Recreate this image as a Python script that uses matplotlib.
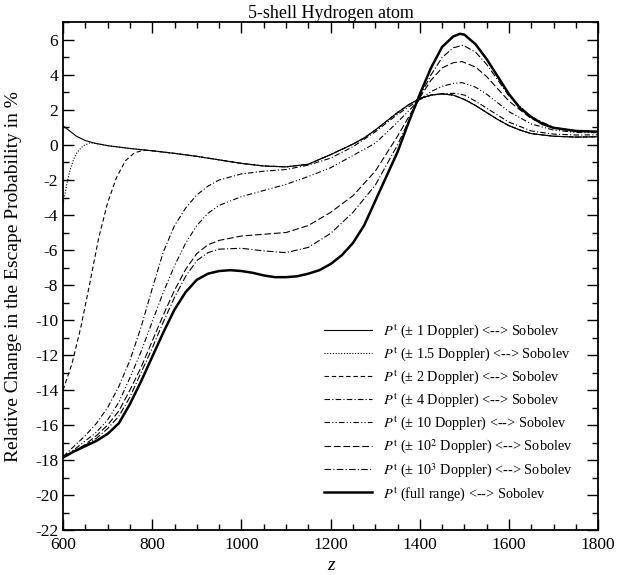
import matplotlib
matplotlib.use("Agg")
import matplotlib.pyplot as plt
from matplotlib.ticker import MultipleLocator

plt.rcParams['font.family'] = ['Liberation Serif', 'DejaVu Serif']
plt.rcParams['mathtext.fontset'] = 'stix'
plt.rcParams['axes.unicode_minus'] = False

# top curve (+-1 Doppler); the narrow windows join it after their start
z_top = [600, 615, 630, 650, 675, 700, 750, 800, 850, 900, 950, 1000, 1050, 1100,
         1150, 1200, 1225, 1250, 1275, 1300, 1325, 1350, 1375, 1400, 1425, 1450,
         1475, 1500, 1525, 1550, 1575, 1600, 1625, 1650, 1700, 1750, 1800]
p_1 = [1.1, 0.8, 0.5, 0.25, 0.08, -0.04, -0.2, -0.33, -0.48, -0.65, -0.85, -1.05, -1.2, -1.25,
       -1.1, -0.55, -0.25, 0.05, 0.4, 0.85, 1.35, 1.85, 2.3, 2.65, 2.85, 2.92,
       2.85, 2.6, 2.25, 1.85, 1.45, 1.1, 0.85, 0.65, 0.5, 0.45, 0.47]

z_15_head = [600, 608, 616, 624, 632, 645, 660, 675]
p_15_head = [-3.4, -2.3, -1.4, -0.8, -0.4, -0.05, 0.12, 0.08]

z_2_head = [600, 620, 640, 660, 680, 700, 720, 740, 760, 780]
p_2_head = [-14.0, -12.5, -10.4, -7.9, -5.3, -3.3, -1.85, -0.9, -0.45, -0.3]

z_4 = [600, 625, 650, 675, 700, 725, 750, 775, 800, 825, 850, 875, 900, 925, 950, 1000,
       1050, 1100, 1150, 1200, 1250, 1300, 1350, 1400, 1425, 1450, 1480, 1500, 1525,
       1550, 1600, 1650, 1700, 1750, 1800]
p_4 = [-17.8, -17.2, -16.6, -15.9, -15.0, -13.8, -12.3, -10.4, -8.2, -6.1, -4.6, -3.6, -2.85,
       -2.35, -2.0, -1.65, -1.5, -1.4, -1.15, -0.75, -0.1, 0.75, 1.75, 2.6, 2.85, 2.93,
       2.95, 2.85, 2.5, 2.1, 1.3, 0.8, 0.62, 0.57, 0.58]

z_10 = [600, 625, 650, 675, 700, 725, 750, 775, 800, 825, 850, 875, 900, 925, 950, 1000,
        1050, 1100, 1150, 1200, 1250, 1300, 1350, 1400, 1425, 1450, 1475, 1495, 1525,
        1550, 1575, 1600, 1650, 1700, 1750, 1800]
p_10 = [-17.8, -17.4, -16.9, -16.4, -15.7, -14.7, -13.3, -11.8, -10.1, -8.4, -6.9, -5.6, -4.6,
        -3.9, -3.45, -2.95, -2.6, -2.25, -1.8, -1.3, -0.6, 0.1, 1.3, 2.6, 3.05, 3.35,
        3.52, 3.56, 3.3, 2.9, 2.4, 1.9, 1.2, 0.85, 0.72, 0.7]

z_100 = [600, 625, 650, 675, 700, 725, 750, 775, 800, 825, 850, 875, 900, 925, 950, 1000,
         1050, 1100, 1150, 1200, 1250, 1300, 1350, 1400, 1425, 1450, 1475, 1495, 1525,
         1550, 1575, 1600, 1650, 1700, 1750, 1800]
p_100 = [-17.8, -17.5, -17.1, -16.6, -16.0, -15.2, -14.0, -12.7, -11.2, -9.7, -8.3, -7.1, -6.2,
         -5.7, -5.45, -5.2, -5.1, -5.0, -4.6, -3.85, -2.9, -1.5, 0.5, 2.7, 3.7, 4.4,
         4.7, 4.76, 4.45, 3.9, 3.2, 2.5, 1.5, 0.98, 0.8, 0.75]

z_1000 = [600, 625, 650, 675, 700, 725, 750, 775, 800, 825, 850, 875, 900, 925, 950, 1000,
          1050, 1100, 1150, 1200, 1250, 1300, 1350, 1400, 1425, 1450, 1475, 1497, 1525,
          1550, 1575, 1600, 1650, 1700, 1750, 1800]
p_1000 = [-17.85, -17.5, -17.15, -16.75, -16.2, -15.5, -14.4, -13.0, -11.6, -10.1, -8.7, -7.5,
          -6.6, -6.15, -5.95, -5.9, -6.05, -6.15, -5.85, -5.05, -3.85, -2.3, 0.0, 2.75, 4.0,
          5.0, 5.55, 5.7, 5.3, 4.6, 3.7, 2.8, 1.6, 1.0, 0.8, 0.76]

z_full = [600, 625, 650, 675, 700, 725, 750, 775, 800, 825, 850, 875, 900, 925, 950, 975,
          1000, 1025, 1050, 1075, 1100, 1125, 1150, 1175, 1200, 1225, 1250, 1275, 1300,
          1325, 1350, 1375, 1400, 1425, 1450, 1475, 1490, 1500, 1525, 1550, 1575, 1600,
          1625, 1650, 1675, 1700, 1750, 1800]
p_full = [-17.85, -17.5, -17.2, -16.9, -16.5, -15.9, -14.8, -13.5, -12.1, -10.7, -9.4, -8.4,
          -7.7, -7.35, -7.2, -7.15, -7.2, -7.3, -7.45, -7.55, -7.55, -7.5, -7.35, -7.15,
          -6.8, -6.3, -5.6, -4.6, -3.2, -1.8, -0.4, 1.3, 2.9, 4.4, 5.6, 6.2, 6.35, 6.3,
          5.75, 4.9, 3.9, 2.9, 2.1, 1.6, 1.2, 0.98, 0.8, 0.76]

labels = [r'$P^{\mathrm{t}}$ (± 1 Doppler) <--> Sobolev',
          r'$P^{\mathrm{t}}$ (± 1.5 Doppler) <--> Sobolev',
          r'$P^{\mathrm{t}}$ (± 2 Doppler) <--> Sobolev',
          r'$P^{\mathrm{t}}$ (± 4 Doppler) <--> Sobolev',
          r'$P^{\mathrm{t}}$ (± 10 Doppler) <--> Sobolev',
          r'$P^{\mathrm{t}}$ (± 10$^2$ Doppler) <--> Sobolev',
          r'$P^{\mathrm{t}}$ (± 10$^3$ Doppler) <--> Sobolev',
          r'$P^{\mathrm{t}}$ (full range) <--> Sobolev']

# narrow windows: own start, then the shared top curve
z_15 = z_15_head + [z for z in z_top if z > 675]
p_15 = p_15_head + [p for z, p in zip(z_top, p_1) if z > 675]
z_2 = z_2_head + [z for z in z_top if z > 780]
p_2 = p_2_head + [p for z, p in zip(z_top, p_1) if z > 780]

fig = plt.figure(figsize=(6.18, 5.75), dpi=100)
ax = fig.add_axes([0.102, 0.078, 0.866, 0.883])

ax.plot(z_top, p_1, color='k', lw=0.8, ls='-', label=labels[0])
ax.plot(z_15, p_15, color='k', lw=0.8, ls=(0, (1, 1.5)), label=labels[1])
ax.plot(z_2, p_2, color='k', lw=0.8, ls=(0, (4, 2.5)), label=labels[2])
ax.plot(z_4, p_4, color='k', lw=0.8, ls=(0, (5, 2, 1, 2)), label=labels[3])
ax.plot(z_10, p_10, color='k', lw=0.8, ls=(0, (5, 2, 1, 2, 1, 2)), label=labels[4])
ax.plot(z_100, p_100, color='k', lw=0.8, ls=(0, (6, 2.5)), label=labels[5])
ax.plot(z_1000, p_1000, color='k', lw=0.8, ls=(0, (6, 2, 1, 2)), label=labels[6])
ax.plot(z_full, p_full, color='k', lw=1.8, ls='-', label=labels[7])

ax.set_xlim(600, 1800)
ax.set_ylim(-22, 7)
ax.xaxis.set_major_locator(MultipleLocator(200))
ax.xaxis.set_minor_locator(MultipleLocator(50))
ax.yaxis.set_major_locator(MultipleLocator(2))
ax.yaxis.set_minor_locator(MultipleLocator(1))
ax.tick_params(which='both', direction='in', top=True, right=True, labelsize=12.5, width=1)
ax.tick_params(which='major', length=8)
ax.tick_params(which='minor', length=4)
ax.tick_params(axis='x', pad=5)
for s in ax.spines.values():
    s.set_linewidth(1.3)

ax.set_title('5-shell Hydrogen atom', fontsize=13, pad=3)
ax.set_xlabel('z', fontsize=14, style='italic', labelpad=3)
ax.set_ylabel('Relative Change in the Escape Probability in %', fontsize=14)
ax.yaxis.set_label_coords(-0.077, 0.5)

ax.legend(loc='lower left', bbox_to_anchor=(0.475, 0.04), frameon=False, fontsize=10.3,
          handlelength=3.3, handletextpad=0.77, labelspacing=0.38, borderpad=0)

fig.savefig('out.png', dpi=100)
